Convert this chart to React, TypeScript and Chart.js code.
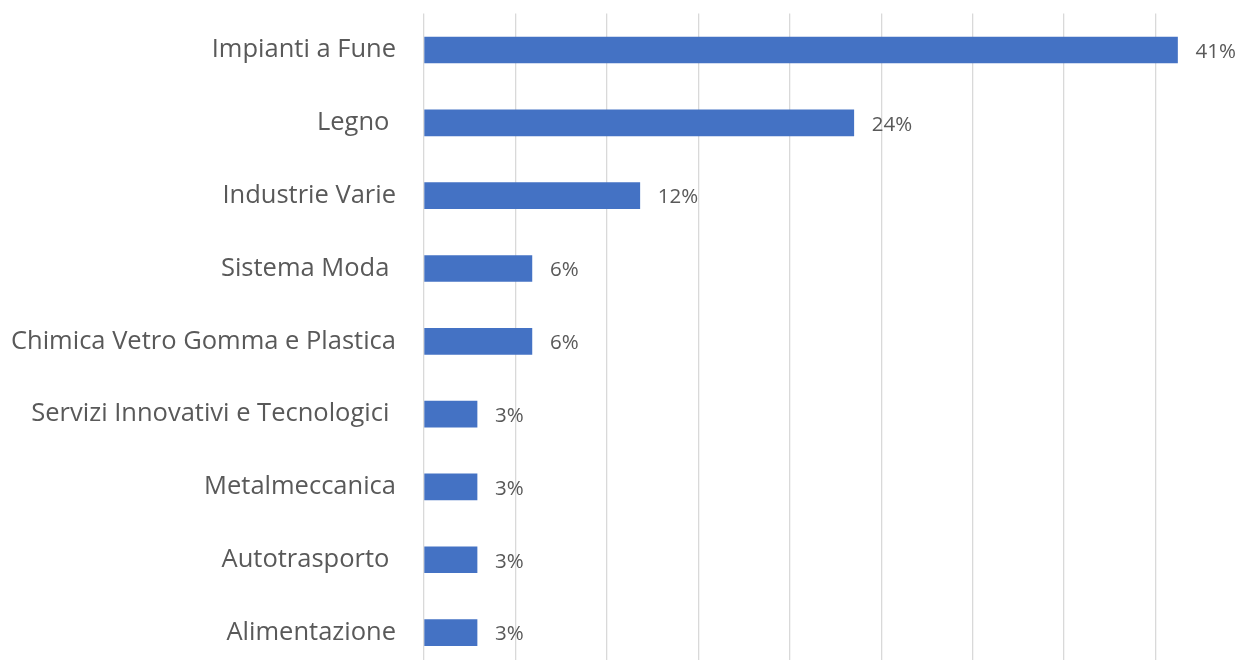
import React, { useEffect, useRef } from "react";
import { Chart, registerables } from "chart.js";

Chart.register(...registerables);

const categories = [
  "Impianti a Fune",
  "Legno ",
  "Industrie Varie",
  "Sistema Moda ",
  "Chimica Vetro Gomma e Plastica",
  "Servizi Innovativi e Tecnologici ",
  "Metalmeccanica",
  "Autotrasporto ",
  "Alimentazione",
];
const values = [41.2, 23.5, 11.8, 5.9, 5.9, 2.9, 2.9, 2.9, 2.9];
const valueLabels = ["41%", "24%", "12%", "6%", "6%", "3%", "3%", "3%", "3%"];

const TEXT_COLOR = "#595959";
const FONT = "'Open Sans', 'Noto Sans', sans-serif";

const dataLabelPlugin = {
  id: "dataLabels",
  afterDatasetsDraw(chart: any) {
    const ctx = chart.ctx;
    const meta = chart.getDatasetMeta(0);
    ctx.save();
    ctx.font = `20.5px ${FONT}`;
    ctx.fillStyle = TEXT_COLOR;
    ctx.textAlign = "left";
    ctx.textBaseline = "middle";
    meta.data.forEach((bar: any, i: number) => {
      ctx.fillText(valueLabels[i], bar.x + 18, bar.y + 2);
    });
    ctx.restore();
  },
};

export default function App() {
  const ref = useRef<HTMLCanvasElement>(null);
  useEffect(() => {
    if (!ref.current) return;
    const chart = new Chart(ref.current, {
      type: "bar",
      data: {
        labels: categories,
        datasets: [
          {
            data: values,
            backgroundColor: "#4472C4",
            borderWidth: 0,
            barThickness: 26,
          },
        ],
      },
      options: {
        indexAxis: "y",
        animation: false,
        responsive: false,
        maintainAspectRatio: false,
        layout: { padding: { top: 13.6, right: 13, left: 0, bottom: 0 } },
        plugins: { legend: { display: false }, tooltip: { enabled: false } },
        scales: {
          x: {
            min: 0,
            max: 45,
            ticks: { display: false, stepSize: 5 },
            grid: { color: "#d9d9d9", lineWidth: 1.3, drawTicks: false },
            border: { display: false },
            afterFit(scale: any) {
              scale.height = 0;
              scale.paddingLeft = 0;
              scale.paddingRight = 0;
            },
          },
          y: {
            grid: { display: false, drawTicks: false },
            border: { display: false },
            ticks: {
              color: TEXT_COLOR,
              font: { family: FONT, size: 25.5 },
              padding: 28,
              autoSkip: false,
            },
            afterFit(scale: any) {
              scale.width = 424;
              scale.paddingTop = 0;
              scale.paddingBottom = 0;
            },
          },
        },
      },
      plugins: [dataLabelPlugin],
    });
    return () => chart.destroy();
  }, []);
  return (
    <div
      style={{
        position: "fixed",
        left: 0,
        top: 0,
        width: 1237,
        height: 660,
        overflow: "hidden",
        background: "#fff",
      }}
    >
      <canvas ref={ref} width={1260} height={669} style={{ display: "block" }} />
    </div>
  );
}
